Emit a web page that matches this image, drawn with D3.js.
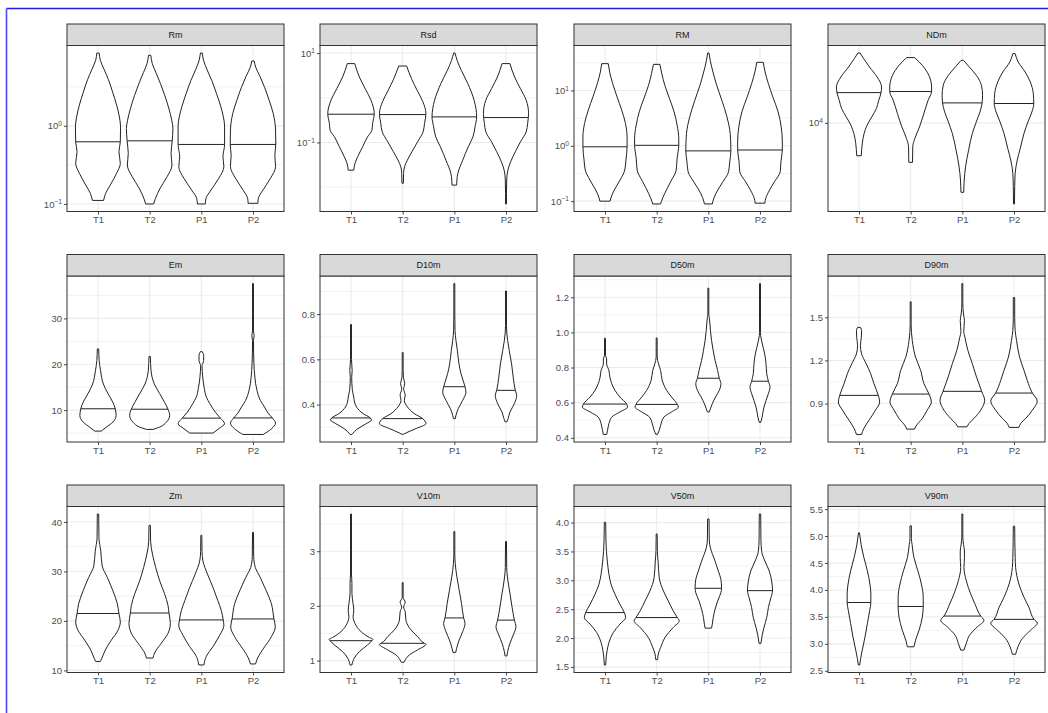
<!DOCTYPE html>
<html>
<head>
<meta charset="utf-8">
<script src="https://cdn.jsdelivr.net/npm/d3@7"></script>
<style>
  body { margin: 0; background: #fff; }
  svg { display: block; font-family: "Liberation Sans", Arial, sans-serif; }
</style>
</head>
<body>
<svg id="chart" width="1048" height="713"></svg>
<script>
// Groups on every x axis
const groups = ["T1", "T2", "P1", "P2"];

// Violin profiles: [value, relative density (1 = widest violin in the facet)], top to bottom
const RmViolins = [
  [[8.55,.05],[6.9,.1],[5.3,.26],[3.9,.45],[2.7,.63],[1.85,.8],[1.3,.92],[0.97,.97],[0.625,.96],[0.466,.9],[0.331,.96],[0.247,.8],[0.175,.53],[0.137,.33],[0.111,.24]],
  [[8.0,.05],[6.3,.11],[4.8,.27],[3.5,.46],[2.45,.65],[1.65,.83],[1.18,.95],[0.926,1.0],[0.643,.97],[0.444,.92],[0.315,.96],[0.223,.75],[0.159,.45],[0.118,.25],[0.100,.17]],
  [[8.55,.04],[6.8,.1],[5.2,.25],[3.8,.45],[2.6,.65],[1.75,.84],[0.97,1.0],[0.578,1.0],[0.402,.93],[0.30,.97],[0.213,.75],[0.151,.42],[0.118,.2],[0.100,.17]],
  [[6.76,.05],[5.6,.12],[4.3,.3],[3.1,.5],[2.1,.7],[1.44,.87],[0.88,.97],[0.578,.98],[0.422,.94],[0.30,.97],[0.213,.75],[0.151,.43],[0.118,.23],[0.102,.21]]
];
const RmMedians = [0.625, 0.643, 0.578, 0.578];
const RmTicks = [0.1, 1];

const RsdViolins = [
  [[5.80,.16],[2.91,.36],[1.60,.61],[0.88,.86],[0.443,1.0],[0.265,.93],[0.188,.9],[0.133,.71],[0.080,.5],[0.048,.29],[0.034,.17],[0.024,.12]],
  [[5.13,.17],[2.68,.38],[1.47,.62],[0.81,.87],[0.443,1.0],[0.265,.94],[0.173,.88],[0.103,.64],[0.062,.4],[0.040,.2],[0.0285,.08],[0.0203,.04],[0.0122,.03]],
  [[10.0,.03],[6.87,.12],[4.11,.3],[2.07,.58],[0.88,.85],[0.373,.96],[0.223,.89],[0.133,.8],[0.080,.6],[0.040,.36],[0.0203,.15],[0.0144,.11],[0.0111,.1]],
  [[5.80,.17],[2.91,.37],[1.60,.62],[0.88,.87],[0.443,.97],[0.265,.93],[0.173,.87],[0.103,.62],[0.062,.4],[0.037,.2],[0.024,.08],[0.0144,.03],[0.0073,.02],[0.0042,.02]]
];
const RsdMedians = [0.428, 0.42, 0.373, 0.36];
const RsdTicks = [0.1, 10];

const RMViolins = [
  [[30.5,.14],[21.5,.2],[13.3,.33],[7.64,.52],[4.40,.72],[2.53,.88],[1.45,.95],[0.96,.95],[0.552,.9],[0.365,.85],[0.241,.65],[0.159,.4],[0.113,.25],[0.1,.22]],
  [[29.6,.14],[20.2,.22],[12.4,.35],[7.15,.55],[4.1,.75],[2.36,.88],[1.36,.95],[1.02,.95],[0.593,.88],[0.365,.84],[0.224,.6],[0.139,.35],[0.098,.2],[0.089,.17]],
  [[47.4,.03],[35.0,.08],[21.5,.2],[12.4,.36],[6.66,.58],[3.33,.8],[1.67,.94],[0.81,.97],[0.515,.92],[0.34,.87],[0.215,.6],[0.139,.33],[0.098,.19],[0.089,.17]],
  [[32.2,.14],[21.5,.22],[13.3,.36],[7.45,.56],[4.1,.78],[2.2,.91],[1.27,.96],[0.84,.96],[0.515,.9],[0.34,.87],[0.224,.62],[0.142,.35],[0.102,.22],[0.092,.21]]
];
const RMMedians = [0.96, 1.02, 0.81, 0.84];
const RMTicks = [0.1, 1, 10];

const NDmViolins = [
  [[50100,.05],[44050,.2],[36300,.45],[28840,.78],[22900,.97],[20100,.95],[16870,.85],[13930,.75],[11480,.55],[9490,.35],[7830,.22],[6220,.14],[4680,.1]],
  [[45100,.17],[37760,.5],[30000,.78],[22900,.9],[20600,.9],[16870,.75],[12420,.57],[9120,.38],[6980,.18],[5750,.09],[4020,.08]],
  [[42360,.05],[36300,.3],[30000,.6],[23820,.82],[18920,.87],[15850,.85],[12880,.76],[10230,.6],[7830,.43],[5330,.27],[3630,.14],[2670,.08],[2013,.06]],
  [[49430,.05],[40740,.18],[32360,.48],[25700,.7],[19680,.83],[15630,.85],[12880,.77],[10230,.6],[7830,.43],[5550,.27],[4240,.14],[3120,.05],[2290,.03],[1538,.02]]
];
const NDmMedians = [20100, 20600, 15850, 15630];
const NDmTicks = [10000];

const EmViolins = [
  [[23.35,.03],[20.8,.05],[18.6,.11],[15.7,.23],[13.6,.43],[11.7,.64],[10.3,.74],[8.85,.78],[7.4,.64],[6.3,.36],[5.43,.14]],
  [[21.7,.03],[18.6,.06],[15.7,.2],[13.6,.43],[11.7,.64],[10.2,.79],[8.85,.86],[7.4,.72],[6.3,.43],[5.8,.14]],
  [[22.75,.04],[21.9,.1],[20.8,.1],[19.7,.03],[17.2,.06],[15.0,.12],[12.8,.22],[11.4,.37],[9.57,.6],[8.26,.82],[7.04,1.0],[5.96,.75],[5.0,.5]],
  [[37.6,.02],[31.0,.02],[27.3,.02],[26.2,.05],[25.2,.02],[20.1,.04],[17.2,.08],[14.3,.17],[12.1,.32],[10.65,.5],[9.35,.65],[8.3,.83],[7.17,.97],[5.96,.8],[4.7,.44]]
];
const EmMedians = [10.3, 10.2, 8.26, 8.3];
const EmTicks = [10, 20, 30];

const D10mViolins = [
  [[.754,.02],[.60,.02],[.551,.05],[.52,.03],[.463,.06],[.433,.12],[.411,.15],[.389,.24],[.360,.52],[.341,.83],[.332,.88],[.316,.66],[.294,.3],[.268,.04]],
  [[.63,.02],[.55,.02],[.521,.03],[.492,.09],[.470,.04],[.441,.11],[.419,.07],[.389,.21],[.360,.5],[.338,.86],[.316,1.0],[.294,.57],[.275,.15],[.269,.04]],
  [[.935,.02],[.80,.02],[.727,.03],[.683,.07],[.639,.13],[.580,.2],[.536,.29],[.499,.4],[.479,.46],[.455,.5],[.419,.36],[.382,.17],[.353,.07],[.338,.04]],
  [[.902,.02],[.75,.02],[.683,.07],[.639,.14],[.580,.24],[.521,.31],[.463,.4],[.441,.46],[.404,.36],[.367,.17],[.338,.09],[.324,.04]]
];
const D10mMedians = [0.341, 0.338, 0.479, 0.463];
const D10mTicks = [0.4, 0.6, 0.8];

const D50mViolins = [
  [[.966,.02],[.87,.02],[.849,.07],[.821,.07],[.783,.17],[.745,.21],[.708,.29],[.670,.43],[.632,.64],[.592,.93],[.575,.97],[.547,.64],[.518,.29],[.481,.17],[.443,.11],[.419,.07]],
  [[.968,.02],[.86,.02],[.821,.08],[.783,.17],[.726,.24],[.670,.43],[.632,.64],[.590,.89],[.575,.93],[.547,.64],[.518,.31],[.471,.17],[.443,.11],[.420,.04]],
  [[1.252,.02],[1.10,.02],[1.085,.04],[1.01,.09],[.953,.14],[.896,.21],[.840,.29],[.783,.4],[.739,.47],[.708,.54],[.670,.47],[.632,.31],[.594,.17],[.566,.09],[.547,.04]],
  [[1.278,.02],[1.0,.02],[.934,.1],[.878,.2],[.821,.26],[.764,.29],[.722,.36],[.688,.43],[.651,.36],[.613,.26],[.575,.17],[.518,.09],[.487,.03]]
];
const D50mMedians = [0.592, 0.590, 0.739, 0.722];
const D50mTicks = [0.4, 0.6, 0.8, 1.0, 1.2];

const D90mViolins = [
  [[1.430,.06],[1.408,.11],[1.361,.1],[1.304,.06],[1.246,.11],[1.177,.31],[1.108,.5],[1.039,.64],[.957,.83],[.911,.89],[.854,.71],[.784,.43],[.727,.21],[.685,.11]],
  [[1.608,.02],[1.45,.02],[1.338,.07],[1.223,.21],[1.131,.43],[1.039,.57],[.966,.79],[.911,.89],[.854,.71],[.796,.5],[.738,.21],[.722,.17]],
  [[1.735,.02],[1.60,.02],[1.523,.05],[1.477,.09],[1.40,.06],[1.361,.11],[1.269,.24],[1.177,.43],[1.084,.61],[.985,.83],[.923,.96],[.854,.79],[.796,.5],[.762,.29],[.738,.2]],
  [[1.638,.03],[1.50,.03],[1.408,.05],[1.338,.11],[1.223,.24],[1.131,.43],[1.061,.57],[.973,.79],[.918,1.0],[.854,.79],[.796,.5],[.762,.29],[.734,.21]]
];
const D90mMedians = [0.957, 0.966, 0.985, 0.973];
const D90mTicks = [0.9, 1.2, 1.5];

const ZmViolins = [
  [[41.6,.03],[36.8,.04],[34.1,.12],[31.1,.18],[28.8,.4],[26.1,.64],[23.5,.83],[21.5,.9],[19.8,.96],[18.1,.86],[16.1,.57],[14.1,.31],[12.5,.17],[11.8,.1]],
  [[39.3,.03],[36.1,.04],[33.5,.12],[30.8,.26],[28.1,.43],[25.5,.64],[23.1,.79],[21.6,.83],[19.5,.89],[17.5,.79],[15.5,.5],[13.5,.21],[12.5,.14]],
  [[37.3,.02],[34.0,.03],[32.1,.07],[29.5,.26],[26.8,.5],[24.1,.71],[22.1,.86],[20.2,.94],[19.1,.97],[17.1,.79],[14.8,.5],[12.8,.21],[11.1,.11]],
  [[37.9,.02],[33.0,.03],[30.8,.1],[28.8,.31],[26.1,.57],[23.5,.79],[20.4,.9],[18.8,.96],[16.8,.79],[14.5,.46],[12.5,.2],[11.3,.11]]
];
const ZmMedians = [21.5, 21.6, 20.2, 20.4];
const ZmTicks = [10, 20, 30, 40];

const V10mViolins = [
  [[3.68,.02],[2.6,.02],[2.41,.04],[2.23,.04],[2.04,.09],[1.92,.12],[1.80,.09],[1.68,.17],[1.53,.43],[1.42,.8],[1.39,.94],[1.364,.9],[1.285,.71],[1.164,.36],[1.044,.14],[.92,.04]],
  [[2.425,.02],[2.15,.02],[2.07,.11],[1.98,.04],[1.89,.11],[1.74,.14],[1.56,.36],[1.44,.64],[1.316,.93],[1.30,1.0],[1.195,.64],[1.104,.29],[1.013,.11],[.97,.06]],
  [[3.36,.02],[2.95,.02],[2.77,.04],[2.53,.11],[2.285,.21],[2.04,.31],[1.78,.4],[1.68,.46],[1.53,.36],[1.376,.21],[1.225,.1],[1.15,.06]],
  [[3.18,.02],[2.7,.03],[2.53,.06],[2.23,.17],[1.98,.26],[1.74,.36],[1.62,.43],[1.467,.31],[1.316,.17],[1.164,.07],[1.085,.04]]
];
const V10mMedians = [1.364, 1.316, 1.78, 1.74];
const V10mTicks = [1, 2, 3];

const V50mViolins = [
  [[4.005,.03],[3.7,.04],[3.505,.06],[3.333,.1],[3.103,.17],[2.931,.26],[2.759,.43],[2.586,.64],[2.441,.83],[2.355,.89],[2.241,.64],[2.097,.36],[1.924,.17],[1.781,.09],[1.666,.05],[1.534,.03]],
  [[3.803,.02],[3.5,.03],[3.333,.06],[3.045,.11],[2.816,.29],[2.643,.5],[2.471,.71],[2.355,.89],[2.298,.97],[2.183,.71],[2.01,.36],[1.838,.17],[1.724,.07],[1.626,.04]],
  [[4.062,.03],[3.7,.04],[3.562,.09],[3.333,.29],[3.16,.43],[3.017,.54],[2.862,.57],[2.786,.54],[2.643,.4],[2.5,.29],[2.355,.21],[2.241,.17],[2.172,.14]],
  [[4.148,.03],[3.7,.04],[3.505,.07],[3.333,.21],[3.16,.4],[2.988,.5],[2.821,.54],[2.7,.47],[2.528,.36],[2.355,.29],[2.183,.17],[2.04,.09],[1.907,.04]]
];
const V50mMedians = [2.441, 2.355, 2.862, 2.821];
const V50mTicks = [1.5, 2.0, 2.5, 3.0, 3.5, 4.0];

const V90mViolins = [
  [[5.059,.02],[4.846,.09],[4.6,.21],[4.355,.36],[4.11,.47],[3.926,.51],[3.767,.51],[3.62,.46],[3.375,.36],[3.129,.26],[2.884,.14],[2.73,.07],[2.608,.03]],
  [[5.188,.03],[4.95,.03],[4.846,.06],[4.6,.14],[4.355,.31],[4.11,.46],[3.864,.54],[3.693,.54],[3.496,.5],[3.252,.36],[3.068,.21],[2.945,.14]],
  [[5.408,.02],[5.0,.02],[4.846,.05],[4.722,.09],[4.6,.09],[4.415,.07],[4.171,.17],[3.926,.36],[3.743,.54],[3.515,.79],[3.436,.93],[3.313,.64],[3.16,.31],[3.007,.17],[2.884,.07]],
  [[5.182,.03],[4.6,.05],[4.415,.07],[4.11,.21],[3.864,.43],[3.68,.64],[3.454,.86],[3.386,1.0],[3.252,.71],[3.099,.36],[2.945,.17],[2.806,.07]]
];
const V90mMedians = [3.767, 3.693, 3.515, 3.454];
const V90mTicks = [2.5, 3.0, 3.5, 4.0, 4.5, 5.0, 5.5];

// Facet table, in reading order (4 columns x 3 rows)
const facets = [
  { name: "Rm",   violins: RmViolins,   medians: RmMedians,   ticks: RmTicks,   log: true },
  { name: "Rsd",  violins: RsdViolins,  medians: RsdMedians,  ticks: RsdTicks,  log: true },
  { name: "RM",   violins: RMViolins,   medians: RMMedians,   ticks: RMTicks,   log: true },
  { name: "NDm",  violins: NDmViolins,  medians: NDmMedians,  ticks: NDmTicks,  log: true },
  { name: "Em",   violins: EmViolins,   medians: EmMedians,   ticks: EmTicks,   fmt: "d" },
  { name: "D10m", violins: D10mViolins, medians: D10mMedians, ticks: D10mTicks, fmt: ".1f" },
  { name: "D50m", violins: D50mViolins, medians: D50mMedians, ticks: D50mTicks, fmt: ".1f" },
  { name: "D90m", violins: D90mViolins, medians: D90mMedians, ticks: D90mTicks, fmt: ".1f" },
  { name: "Zm",   violins: ZmViolins,   medians: ZmMedians,   ticks: ZmTicks,   fmt: "d" },
  { name: "V10m", violins: V10mViolins, medians: V10mMedians, ticks: V10mTicks, fmt: "d" },
  { name: "V50m", violins: V50mViolins, medians: V50mMedians, ticks: V50mTicks, fmt: ".1f" },
  { name: "V90m", violins: V90mViolins, medians: V90mMedians, ticks: V90mTicks, fmt: ".1f" }
];

// Layout
const colLeft = [67, 320, 574, 828];
const stripTop = [24, 254.5, 485];
const panelW = 217, stripH = 21.5, panelH = 166;

const svg = d3.select("#chart");

// Outer frame (top and left edges)
svg.append("line").attr("x1", 6.5).attr("x2", 1048).attr("y1", 8.5).attr("y2", 8.5)
  .attr("stroke", "#1f1fd8").attr("stroke-width", 1.4);
svg.append("line").attr("x1", 6.5).attr("x2", 6.5).attr("y1", 8.5).attr("y2", 713)
  .attr("stroke", "#4a4aff").attr("stroke-width", 1.6);

const supMinus = s => s.replace("-", "\u2212");

function densityAt(profile, v, tr) {
  for (let i = 0; i < profile.length - 1; i++) {
    const a = profile[i], b = profile[i + 1];
    if ((v <= a[0] && v >= b[0])) {
      const ta = tr(a[0]), tb = tr(b[0]);
      const t = ta === tb ? 0 : (tr(v) - ta) / (tb - ta);
      return a[1] + t * (b[1] - a[1]);
    }
  }
  return profile[0][1];
}

facets.forEach((f, i) => {
  const col = i % 4, row = Math.floor(i / 4);
  const left = colLeft[col], right = left + panelW;
  const sTop = stripTop[row], top = sTop + stripH, bottom = top + panelH;
  const g = svg.append("g");

  const x = d3.scalePoint().domain(groups).range([left, right]).padding(0.6);

  const values = f.violins.flat().map(d => d[0]);
  const lo = d3.min(values), hi = d3.max(values);
  const tr = f.log ? Math.log10 : (v => v);
  const t0 = tr(lo), t1 = tr(hi), pad = (t1 - t0) * 0.05;
  const y = f.log
    ? d3.scaleLog().domain([10 ** (t0 - pad), 10 ** (t1 + pad)]).range([bottom, top])
    : d3.scaleLinear().domain([lo - pad, hi + pad]).range([bottom, top]);

  // Minor breaks halfway between majors (extended one step on each side)
  const tt = f.ticks.map(tr);
  let minor = [];
  if (tt.length > 1) {
    const step = tt[1] - tt[0];
    const ext = [tt[0] - step, ...tt, tt[tt.length - 1] + step];
    for (let k = 0; k < ext.length - 1; k++) minor.push((ext[k] + ext[k + 1]) / 2);
    minor = minor.filter(m => m > t0 - pad && m < t1 + pad);
  }
  const inv = f.log ? (m => 10 ** m) : (m => m);

  // Grid
  g.selectAll(".minor").data(minor).join("line")
    .attr("x1", left).attr("x2", right)
    .attr("y1", m => y(inv(m))).attr("y2", m => y(inv(m)))
    .attr("stroke", "#f1f1f1").attr("stroke-width", 0.9);
  g.selectAll(".major").data(f.ticks).join("line")
    .attr("x1", left).attr("x2", right)
    .attr("y1", d => y(d)).attr("y2", d => y(d))
    .attr("stroke", "#ebebeb").attr("stroke-width", 1.1);
  g.selectAll(".vgrid").data(groups).join("line")
    .attr("x1", d => x(d)).attr("x2", d => x(d))
    .attr("y1", top).attr("y2", bottom)
    .attr("stroke", "#ebebeb").attr("stroke-width", 1.1);

  // Violins
  const maxHW = 0.45 * x.step();
  f.violins.forEach((prof, j) => {
    const cx = x(groups[j]);
    const area = d3.area()
      .curve(d3.curveMonotoneY)
      .y(d => y(d[0]))
      .x0(d => cx - d[1] * maxHW)
      .x1(d => cx + d[1] * maxHW);
    g.append("path").attr("d", area(prof))
      .attr("fill", "#fff").attr("stroke", "#222").attr("stroke-width", 1)
      .attr("stroke-linejoin", "round");
    const med = f.medians[j];
    const w = densityAt(prof, med, tr) * maxHW;
    g.append("line")
      .attr("x1", cx - w).attr("x2", cx + w)
      .attr("y1", y(med)).attr("y2", y(med))
      .attr("stroke", "#222").attr("stroke-width", 1);
  });

  // Panel border
  g.append("rect").attr("x", left).attr("y", top).attr("width", panelW).attr("height", panelH)
    .attr("fill", "none").attr("stroke", "#333").attr("stroke-width", 1);

  // Strip
  g.append("rect").attr("x", left).attr("y", sTop).attr("width", panelW).attr("height", stripH)
    .attr("fill", "#d9d9d9").attr("stroke", "#333").attr("stroke-width", 1);
  g.append("text").attr("x", (left + right) / 2).attr("y", sTop + stripH / 2)
    .attr("dy", "0.35em").attr("text-anchor", "middle")
    .attr("font-size", 9).attr("fill", "#1a1a1a").text(f.name);

  // Y axis
  const yAxis = d3.axisLeft(y).tickValues(f.ticks).tickSize(3).tickPadding(2)
    .tickFormat(f.log ? (() => "") : d3.format(f.fmt));
  const ya = g.append("g").attr("transform", `translate(${left},0)`).call(yAxis);
  ya.select(".domain").remove();
  ya.selectAll(".tick line").attr("stroke", "#333").attr("stroke-width", 0.9);
  ya.selectAll(".tick text").attr("fill", "#4d4d4d").attr("font-size", 9.5)
    .attr("font-family", "Liberation Sans, Arial, sans-serif");
  if (f.log) {
    ya.selectAll(".tick text").each(function (d) {
      const t = d3.select(this);
      t.text("10");
      t.append("tspan").attr("dy", "-0.5em").attr("font-size", "0.7em")
        .text(supMinus(String(Math.round(Math.log10(d)))));
    });
  }

  // X axis
  const xa = g.append("g").attr("transform", `translate(0,${bottom})`)
    .call(d3.axisBottom(x).tickSize(3).tickPadding(2));
  xa.select(".domain").remove();
  xa.selectAll(".tick line").attr("stroke", "#333").attr("stroke-width", 0.9);
  xa.selectAll(".tick text").attr("fill", "#4d4d4d").attr("font-size", 9.5)
    .attr("font-family", "Liberation Sans, Arial, sans-serif");
});
</script>
</body>
</html>
